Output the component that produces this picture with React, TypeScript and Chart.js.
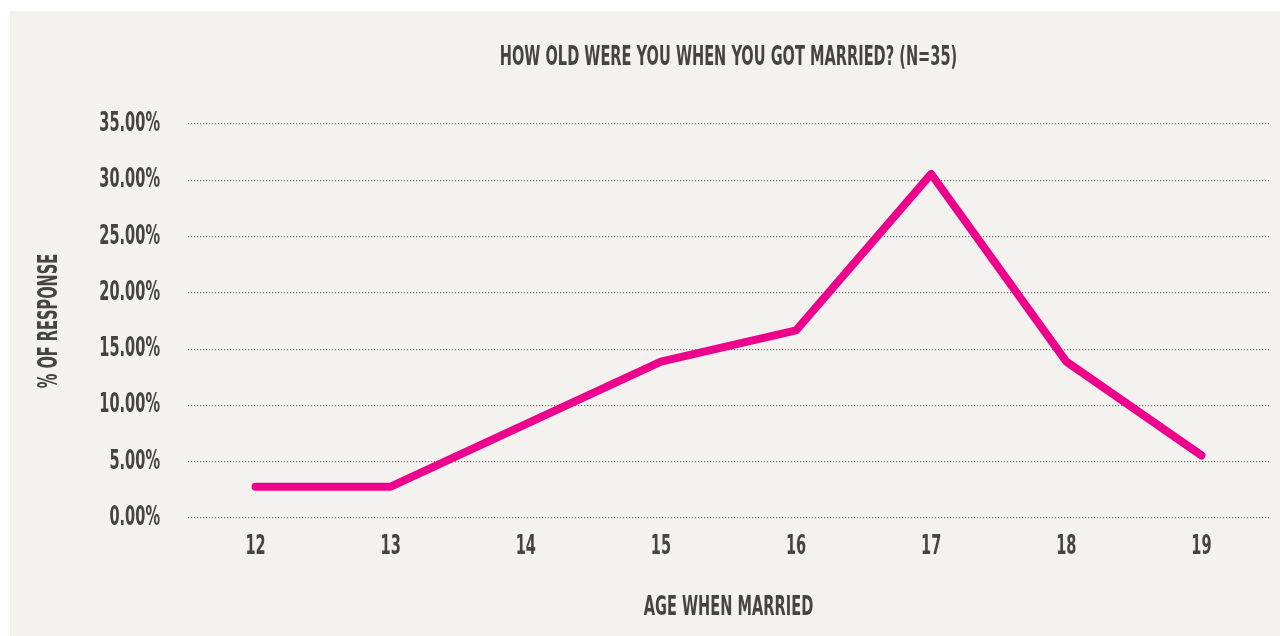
import React, { useEffect, useRef } from "react";
import { Chart, registerables } from "chart.js";

Chart.register(...registerables);

const ages = ["12", "13", "14", "15", "16", "17", "18", "19"];
const responsePct = [2.78, 2.78, 8.33, 13.89, 16.67, 30.56, 13.89, 5.56];
const titleText = "HOW OLD WERE YOU WHEN YOU GOT MARRIED? (N=35)";
const xTitle = "AGE WHEN MARRIED";
const yTitle = "% OF RESPONSE";

const FONT = "'DejaVu Sans Condensed', 'Liberation Sans Narrow', 'Roboto', sans-serif";
const TEXT = "#444444";
const SQUEEZE = 0.6;

// Draw all text horizontally condensed (the reference uses a narrow display face).
function condenseText(ctx: any, sx: number) {
  if (ctx.__condensed) return;
  ctx.__condensed = true;
  const origFill = ctx.fillText.bind(ctx);
  const origMeasure = ctx.measureText.bind(ctx);
  ctx.measureText = (t: string) => {
    const m = origMeasure(t);
    return {
      width: m.width * sx,
      actualBoundingBoxAscent: m.actualBoundingBoxAscent,
      actualBoundingBoxDescent: m.actualBoundingBoxDescent,
      actualBoundingBoxLeft: m.actualBoundingBoxLeft * sx,
      actualBoundingBoxRight: m.actualBoundingBoxRight * sx,
    };
  };
  ctx.fillText = (t: string, x: number, y: number) => {
    ctx.save();
    ctx.translate(x, y);
    ctx.scale(sx, 1);
    origFill(t, 0, 0);
    ctx.restore();
  };
}

export default function App() {
  const ref = useRef<HTMLCanvasElement>(null);
  useEffect(() => {
    if (!ref.current) return;
    const ctx = ref.current.getContext("2d");
    condenseText(ctx, SQUEEZE);
    const font = { family: FONT, size: 27, weight: "bold" as const, lineHeight: 1.2 };
    const chart = new Chart(ref.current, {
      type: "line",
      data: {
        labels: ages,
        datasets: [
          {
            data: responsePct,
            borderColor: "#ec008c",
            backgroundColor: "#ec008c",
            borderWidth: 8,
            borderCapStyle: "round",
            borderJoinStyle: "round",
            pointRadius: 0,
            tension: 0,
            fill: false,
          },
        ],
      },
      options: {
        responsive: false,
        animation: false,
        layout: { padding: { left: 0, right: 11, top: 0, bottom: 0 } },
        plugins: {
          legend: { display: false },
          tooltip: { enabled: false },
          title: {
            display: true,
            text: titleText,
            fullSize: false,
            color: TEXT,
            font,
            padding: { top: 31, bottom: 49.6 },
          },
        },
        scales: {
          x: {
            offset: true,
            grid: { display: false, drawTicks: false, offset: true },
            border: { display: false },
            ticks: {
              color: TEXT,
              padding: 13,
              font,
            },
            title: {
              display: true,
              text: xTitle,
              color: TEXT,
              font,
              padding: { top: 0, bottom: 11.8 },
            },
            afterFit: (scale: any) => {
              scale.height = 118;
            },
          },
          y: {
            min: 0,
            max: 35,
            grid: { color: "#7a7a7a", lineWidth: 1.2, drawTicks: false },
            border: { display: false, dash: [1.2, 1.8] },
            ticks: {
              stepSize: 5,
              color: TEXT,
              padding: 28,
              font,
              callback: (v: any) => Number(v).toFixed(2) + "%",
            },
            title: {
              display: true,
              text: yTitle,
              color: TEXT,
              font,
              padding: { top: 23.8, bottom: 0 },
            },
            afterFit: (scale: any) => {
              scale.width = 178;
            },
          },
        },
      },
    });
    return () => chart.destroy();
  }, []);
  return (
    <div
      style={{
        position: "fixed",
        left: 10,
        top: 11,
        width: 1270,
        height: 625,
        background: "#f3f2ee",
      }}
    >
      <canvas ref={ref} width={1270} height={625} style={{ display: "block" }} />
    </div>
  );
}
